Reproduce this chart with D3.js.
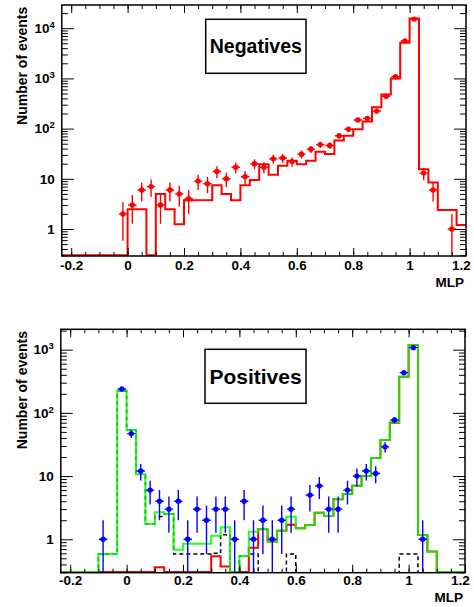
<!DOCTYPE html>
<html>
<head>
<meta charset="utf-8">
<script src="https://cdn.jsdelivr.net/npm/d3@7"></script>
<style>
  body { margin: 0; background: #fff; }
  text { font-family: "Liberation Sans", Arial, sans-serif; font-weight: bold; }
</style>
</head>
<body>
<svg width="474" height="607"></svg>
<script>
const svg = d3.select("svg");

// MLP axis: 43 bins of width 1/30 from -7/30 to 1.2
const xMin = -7 / 30, xMax = 1.2;
const edges = d3.range(-7, 37).map(k => k / 30);
const xTickValues = [-0.2, 0, 0.2, 0.4, 0.6, 0.8, 1, 1.2];
const xTickLabels = ["-0.2", "0", "0.2", "0.4", "0.6", "0.8", "1", "1.2"];

// Negatives: data points (null = empty bin) and MC histogram
const negData = [null, null, null, null, null, null,
  2, 3, 6, 7, 3, 6, 5, 4, 9, 8, 14, 10, 17, 11, 20, 17, 25, 26, 22, 31, 39, 48, 46, 72,
  97, 148, 160, 224, 440, 1080, 5560, 15200, 13, 6, null, 1, null];
const negMC = [0, 0, 0, 0, 0, 0, 0,
  2.48, 2.48, 0, 4.96, 2.48, 1.24, 3.72, 3.72, 3.72, 7.44, 4.96, 3.72, 7.44, 9.47, 19.5,
  12.1, 18.2, 23, 19.5, 23, 34.7, 31.2, 58, 72, 97, 139, 265, 480, 1000, 5140, 15700,
  15.5, 8.4, 2.4, 2.4, 1.2];

// Positives: data points, total MC (green), dashed component (black), red component
const posData = [null, null, null, null, 1, null,
  239, 47, 12, 6, 4, 3, 4, 1, 3, 2, 3, 3, 1, 4, 1, 2, 1, 2, 3, null, 5, 7, 3, 3, 6, 10,
  12, 11, 29, 77, 433, 1076, 1, null, null, null, null];
const posTotal = [0, 0, 0, 0, 0.586, 0.586,
  222, 53.6, 10.7, 1.75, 2.67, 2.51, 0.68, 0.853, 0.853, 0.853, 1.14, 1.55, 0, 0.546,
  1.32, 1.45, 0.92, 1.37, 2.28, 1.5, 1.68, 2.63, 2.34, 4.29, 5.2, 7.05, 10.05, 19.3,
  37.2, 71, 374, 1187, 1.17, 0.64, 0, 0, 0];
const posDashed = [0, 0, 0, 0, 0.586, 0.586,
  222, 53.6, 10.7, 1.75, 2.3, 2.51, 0.586, 0.586, 0.586, 0.586, 0.6, 1.18, 0, 0.546,
  0.586, 0, 0, 0, 0.586, 0, 0, 0, 0, 0, 0, 0, 0, 0, 0, 0, 0.586, 0.586, 0, 0, 0, 0, 0];
const posRed = [0, 0, 0, 0, 0, 0, 0, 0, 0, 0,
  0.36, 0, 0, 0, 0, 0, 0.54, 0.37, 0, 0, 0.737, 1.44, 0.92, 1.37, 1.7, 1.5, 1.68, 2.63,
  2.34, 4.29, 5.2, 7.05, 10.05, 19.3, 37.2, 70, 373, 1186, 1.17, 0.64, 0, 0, 0];

function logTicks(lo, hi) {
  const major = [], minor = [];
  for (let e = -1; e <= 5; e++) {
    for (let m = 1; m <= 9; m++) {
      const v = m * Math.pow(10, e);
      if (v < lo || v > hi) continue;
      (m === 1 ? major : minor).push(v);
    }
  }
  return { major, minor };
}

function drawPanel(p) {
  const x = d3.scaleLinear().domain([xMin, xMax]).range([p.left, p.right]);
  const y = d3.scaleLog().domain(p.yDomain).range([p.bottom, p.top]);
  const yv = (v, lift = 0.8) => Math.min(y(Math.max(v, p.yDomain[0])), p.bottom - lift);

  const clipId = "clip-" + p.name;
  svg.append("clipPath").attr("id", clipId).append("rect")
    .attr("x", p.left).attr("y", p.top)
    .attr("width", p.right - p.left).attr("height", p.bottom - p.top);
  const plot = svg.append("g").attr("clip-path", `url(#${clipId})`);

  // step histograms
  p.hists.forEach(h => {
    const lift = h.dash ? 0 : 0.8;
    const line = d3.line().x(d => x(d[0])).y(d => yv(d[1], lift));
    const steps = [];
    h.values.forEach((v, i) => steps.push([edges[i], v], [edges[i + 1], v]));
    plot.append("path")
      .attr("d", line(steps))
      .attr("fill", "none")
      .attr("stroke", h.color)
      .attr("stroke-width", h.width)
      .attr("stroke-opacity", h.opacity || 1)
      .attr("stroke-dasharray", h.dash || null);
  });

  // data points with errors
  const pts = p.points
    .map((v, i) => ({ v, lo: edges[i], hi: edges[i + 1], c: (edges[i] + edges[i + 1]) / 2 }))
    .filter(d => d.v != null);
  const pg = plot.append("g").attr("stroke", p.pointColor).attr("stroke-width", 1.4);
  pg.selectAll(".ey").data(pts).join("line")
    .attr("x1", d => x(d.c)).attr("x2", d => x(d.c))
    .attr("y1", d => yv(d.v - Math.sqrt(d.v), 0)).attr("y2", d => yv(d.v + Math.sqrt(d.v)));
  pg.selectAll(".ex").data(pts).join("line")
    .attr("x1", d => x(d.lo) + 0.5).attr("x2", d => x(d.hi) - 0.5)
    .attr("y1", d => yv(d.v)).attr("y2", d => yv(d.v));
  plot.append("g").selectAll("circle").data(pts).join("circle")
    .attr("cx", d => x(d.c)).attr("cy", d => yv(d.v)).attr("r", 2.7)
    .attr("fill", p.pointColor);

  // axes with inward ticks
  const xMinor = d3.range(-4, 25).map(i => i * 0.05);
  const yt = logTicks(p.yDomain[0], p.yDomain[1]);
  const style = sel => {
    sel.select(".domain").remove();
    sel.selectAll("line").attr("stroke", "#000");
    sel.attr("font-size", null).attr("font-family", null);
  };

  svg.append("g").attr("transform", `translate(0,${p.bottom})`)
    .call(d3.axisBottom(x).tickValues(xMinor).tickSize(-4).tickFormat(""))
    .call(style);
  svg.append("g").attr("transform", `translate(0,${p.bottom})`)
    .call(d3.axisBottom(x).tickValues(xTickValues).tickSize(-8).tickPadding(p.xPad)
      .tickFormat((d, i) => xTickLabels[i]))
    .call(style)
    .selectAll("text").attr("font-size", 13.5).attr("fill", "#000")
    .attr("dx", (d, i) => i === xTickValues.length - 1 ? -5 : 0);
  svg.append("g").attr("transform", `translate(0,${p.top})`)
    .call(d3.axisTop(x).tickValues(xMinor).tickSize(-4).tickFormat(""))
    .call(style);
  svg.append("g").attr("transform", `translate(0,${p.top})`)
    .call(d3.axisTop(x).tickValues(xTickValues).tickSize(-8).tickFormat(""))
    .call(style);

  svg.append("g").attr("transform", `translate(${p.left},0)`)
    .call(d3.axisLeft(y).tickValues(yt.minor).tickSize(-6).tickFormat(""))
    .call(style);
  const yl = svg.append("g").attr("transform", `translate(${p.left},0)`)
    .call(d3.axisLeft(y).tickValues(yt.major).tickSize(-12).tickPadding(7).tickFormat(""))
    .call(style);
  yl.selectAll(".tick text").each(function (d) {
    const t = d3.select(this).attr("font-size", 13.5).attr("fill", "#000");
    const e = Math.round(Math.log10(d));
    if (e <= 1) {
      t.text(d);
    } else {
      t.append("tspan").text("10");
      t.append("tspan").attr("dy", -5).attr("font-size", 9.5).text(e);
    }
  });
  svg.append("g").attr("transform", `translate(${p.right},0)`)
    .call(d3.axisRight(y).tickValues(yt.minor).tickSize(-6).tickFormat(""))
    .call(style);
  svg.append("g").attr("transform", `translate(${p.right},0)`)
    .call(d3.axisRight(y).tickValues(yt.major).tickSize(-12).tickFormat(""))
    .call(style);

  // frame
  svg.append("rect")
    .attr("x", p.left).attr("y", p.top)
    .attr("width", p.right - p.left).attr("height", p.bottom - p.top)
    .attr("fill", "none").attr("stroke", "#000").attr("stroke-width", 1.5);

  // axis titles
  svg.append("text")
    .attr("x", p.right - 2).attr("y", p.xTitleY)
    .attr("text-anchor", "end").attr("font-size", 13.5)
    .text("MLP");
  svg.append("text")
    .attr("transform", `translate(26.7,${p.top + 1.7}) rotate(-90)`)
    .attr("text-anchor", "end").attr("font-size", 14)
    .text("Number of events");

  // title box
  const b = p.box;
  svg.append("rect")
    .attr("x", b.x).attr("y", b.y).attr("width", b.w).attr("height", b.h)
    .attr("fill", "#fff").attr("stroke", "#000").attr("stroke-width", 1.5);
  svg.append("text")
    .attr("x", b.x + b.w / 2).attr("y", b.baseline)
    .attr("text-anchor", "middle").attr("font-size", b.size)
    .text(p.title);
}

drawPanel({
  name: "neg", title: "Negatives",
  left: 61.8, right: 466, top: 5, bottom: 256,
  yDomain: [0.29, 29000], xPad: 4, xTitleY: 287.3,
  box: { x: 205.7, y: 19.3, w: 100.3, h: 54, baseline: 53.3, size: 19.5 },
  pointColor: "#ff0000",
  points: negData,
  hists: [{ values: negMC, color: "#ff0000", width: 2 }]
});

drawPanel({
  name: "pos", title: "Positives",
  left: 60.8, right: 465, top: 329.3, bottom: 572.7,
  yDomain: [0.296, 2100], xPad: 2.7, xTitleY: 602,
  box: { x: 205, y: 349.3, w: 101, h: 54, baseline: 384.3, size: 21 },
  pointColor: "#0000ff",
  points: posData,
  hists: [
    { values: posDashed, color: "#000000", width: 1.5, dash: "4,3" },
    { values: posRed, color: "#ff0000", width: 2 },
    { values: posTotal, color: "#00ff00", width: 2, opacity: 0.85 }
  ]
});
</script>
</body>
</html>
